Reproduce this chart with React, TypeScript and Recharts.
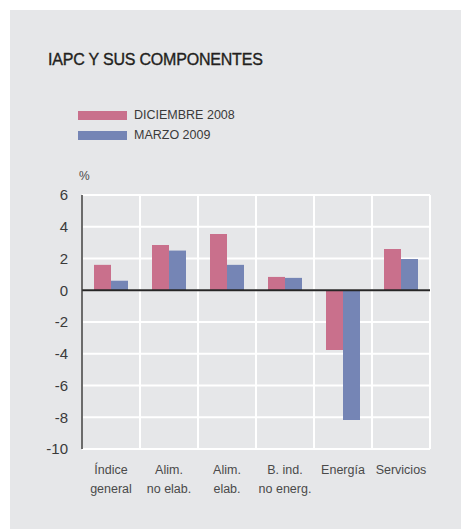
import React from 'react';
import { BarChart, Bar, XAxis, YAxis, CartesianGrid, ReferenceLine } from 'recharts';

const categories = ['Índice|general', 'Alim.|no elab.', 'Alim.|elab.', 'B. ind.|no energ.', 'Energía', 'Servicios'];
const dic2008 = [1.6, 2.85, 3.55, 0.84, -3.76, 2.6];
const mar2009 = [0.6, 2.5, 1.6, 0.78, -8.17, 1.97];
const yTicks = [-10, -8, -6, -4, -2, 0, 2, 4, 6];

const SERIES = [
  { key: 'dic', name: 'DICIEMBRE 2008', color: '#c9708c' },
  { key: 'mar', name: 'MARZO 2009', color: '#7585b5' },
];

const FONT = '"Liberation Sans", Arial, sans-serif';

const data = categories.map((c, i) => ({ name: c, dic: dic2008[i], mar: mar2009[i] }));

const CategoryTick = (props: any) => {
  const { x, y, payload } = props;
  const lines = String(payload.value).split('|');
  return (
    <text x={x} y={y} textAnchor="middle" fill="#4a4a4a" fontSize={12.5} fontFamily={FONT}>
      {lines.map((l, i) => (
        <tspan key={i} x={x} dy={i === 0 ? 17 : 18.5}>{l}</tspan>
      ))}
    </text>
  );
};

// legend sits above the plot, drawn as plain html
const LegendBox = () => (
  <div style={{ position: 'absolute', left: 78, top: 105, fontFamily: FONT, fontSize: 12.5, color: '#3a3a3a' }}>
    {SERIES.map((s) => (
      <div key={s.key} style={{ display: 'flex', alignItems: 'center', height: 20 }}>
        <span style={{ display: 'inline-block', width: 49, height: 9, background: s.color, marginRight: 7 }} />
        <span>{s.name}</span>
      </div>
    ))}
  </div>
);

const App = () => {
  return (
    <div style={{ position: 'fixed', left: 0, top: 0, width: 461, height: 529, background: '#ffffff', overflow: 'hidden' }}>
      <div style={{ position: 'absolute', left: 10, top: 10, width: 451, height: 519, background: '#e6e7e9' }} />
      <div
        style={{
          position: 'absolute', left: 48, top: 51, fontFamily: FONT, fontSize: 16, color: '#231f20',
          letterSpacing: -0.2, WebkitTextStroke: '0.35px #231f20',
        }}
      >
        IAPC Y SUS COMPONENTES
      </div>
      <LegendBox />
      <div style={{ position: 'absolute', left: 79, top: 169, fontFamily: FONT, fontSize: 12, color: '#4a4a4a' }}>%</div>
      <div style={{ position: 'absolute', left: 0, top: 0 }}>
        <BarChart
          width={461}
          height={529}
          data={data}
          margin={{ top: 195, right: 31, left: 32, bottom: 40 }}
          barGap={0}
          barSize={17}
        >
          <CartesianGrid
            stroke="#ffffff"
            strokeWidth={2}
            verticalCoordinatesGenerator={({ offset }: any) =>
              categories.map((_, i) => offset.left + (offset.width * i) / categories.length).concat(offset.left + offset.width)
            }
          />
          <XAxis
            dataKey="name"
            axisLine={false}
            tickLine={false}
            height={40}
            interval={0}
            tick={<CategoryTick />}
          />
          <YAxis
            width={50}
            domain={[-10, 6]}
            ticks={yTicks}
            interval={0}
            tickLine={false}
            tickSize={0}
            tickMargin={14}
            axisLine={{ stroke: '#3a3a3a', strokeWidth: 1.5 }}
            tick={{ fill: '#3a3a3a', fontSize: 15, fontFamily: FONT }}
          />
          {SERIES.map((s) => (
            <Bar key={s.key} dataKey={s.key} name={s.name} fill={s.color} isAnimationActive={false} />
          ))}
          <ReferenceLine y={0} stroke="#262626" strokeWidth={2} />
        </BarChart>
      </div>
    </div>
  );
};

export default App;
